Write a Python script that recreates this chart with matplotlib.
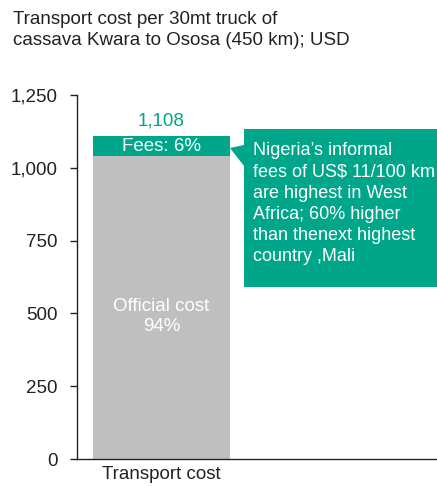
import matplotlib.pyplot as plt
from matplotlib.patches import Polygon

plt.rcParams['font.family'] = ['Liberation Sans', 'DejaVu Sans']

# Data
categories = ['Transport cost']
official_cost = [1041]
fees = [67]
total_label = '1,108'
y_ticks = [0, 250, 500, 750, 1000, 1250]
y_tick_labels = ['0', '250', '500', '750', '1,000', '1,250']

teal = '#00A689'
grey = '#BFBFBF'
ink = '#222222'
fs = 13.5

W, H = 437, 486
fig = plt.figure(figsize=(W / 100, H / 100), dpi=100)
ax = fig.add_axes([77 / W, 27 / H, 360 / W, 364 / H])

x = range(len(categories))
ax.bar(x, official_cost, width=0.8, color=grey)
ax.bar(x, fees, bottom=official_cost, width=0.8, color=teal)

ax.set_ylim(0, 1250)
ax.set_xlim(-0.493, 1.609)
ax.set_yticks(y_ticks)
ax.set_yticklabels(y_tick_labels, fontsize=fs, color=ink)
ax.set_xticks(list(x))
ax.set_xticklabels(categories, fontsize=fs, color=ink)
ax.tick_params(axis='y', length=5, width=1, pad=9, color=ink)
ax.tick_params(axis='x', length=0, pad=5)
for s in ['top', 'right']:
    ax.spines[s].set_visible(False)
for s in ['left', 'bottom']:
    ax.spines[s].set_color(ink)
    ax.spines[s].set_linewidth(1)

# labels on the bar
for i in x:
    tot = official_cost[i] + fees[i]
    ax.text(i, tot + 22, total_label, ha='center', va='bottom', color=teal, fontsize=fs)
    ax.text(i, official_cost[i] + fees[i] / 2, 'Fees: 6%', ha='center', va='center',
            color='white', fontsize=fs)
    ax.text(i, official_cost[i] * 0.47, 'Official cost\n94%', ha='center', va='center',
            color='white', fontsize=fs, linespacing=1.25)

# callout box with pointer, in figure pixels
def fp(px, py):
    return (px / W, 1 - py / H)

box = Polygon([fp(244, 129), fp(437, 129), fp(437, 287), fp(244, 287),
               fp(244, 166), fp(230, 148), fp(244, 145)],
              closed=True, transform=fig.transFigure, facecolor=teal, edgecolor='none')
fig.patches.append(box)
fig.text(253 / W, 1 - 142 / H,
         'Nigeria\u2019s informal\nfees of US$ 11/100 km\nare highest in West\n'
         'Africa; 60% higher\nthan thenext highest\ncountry ,Mali',
         ha='left', va='top', color='white', fontsize=13, linespacing=1.33)

# title
fig.text(13 / W, 1 - 11 / H, 'Transport cost per 30mt truck of\ncassava Kwara to Ososa (450 km); USD',
         ha='left', va='top', fontsize=fs, color=ink, linespacing=1.28)

fig.savefig('out.png', dpi=100)
